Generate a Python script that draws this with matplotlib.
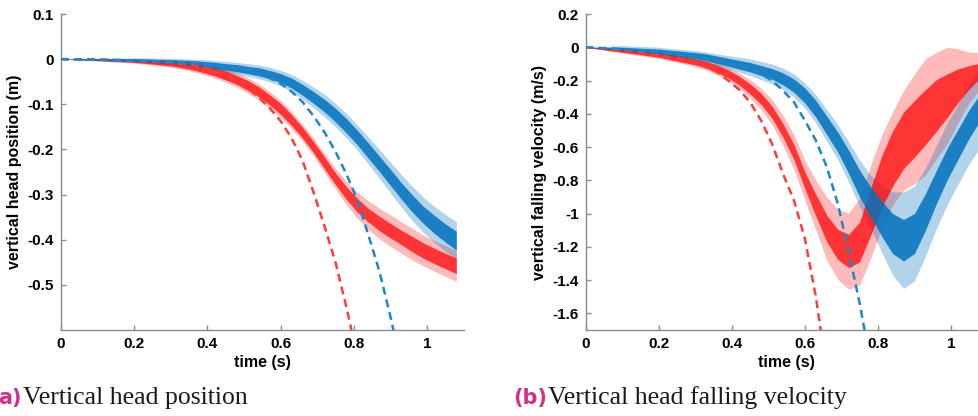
import numpy as np
import matplotlib
matplotlib.use("Agg")
import matplotlib.pyplot as plt

# ---------------- data ----------------
t = [0, 0.1, 0.2, 0.3, 0.33, 0.36, 0.39, 0.42, 0.45, 0.48, 0.51, 0.54, 0.57, 0.6,
     0.63, 0.66, 0.69, 0.72, 0.75, 0.78, 0.81, 0.84, 0.87, 0.9, 0.93, 0.96, 0.99,
     1.02, 1.05, 1.08]

# (a) vertical head position (m)
red_pos = [0, -0.001, -0.004, -0.010, -0.013, -0.017, -0.022, -0.028, -0.036, -0.046,
           -0.058, -0.072, -0.090, -0.110, -0.135, -0.163, -0.195, -0.230, -0.265,
           -0.297, -0.324, -0.346, -0.364, -0.380, -0.395, -0.410, -0.424, -0.436,
           -0.447, -0.458]
red_pos_sd_in = [0, 0.002, 0.003, 0.005, 0.006, 0.007, 0.008, 0.009, 0.010, 0.010,
                 0.011, 0.011, 0.011, 0.012, 0.012, 0.012, 0.012, 0.013, 0.013, 0.014,
                 0.015, 0.015, 0.016, 0.016, 0.016, 0.017, 0.017, 0.017, 0.017, 0.017]
red_pos_sd_out = [0, 0.003, 0.005, 0.008, 0.009, 0.011, 0.012, 0.014, 0.015, 0.016,
                  0.017, 0.018, 0.018, 0.019, 0.019, 0.019, 0.020, 0.021, 0.023, 0.026,
                  0.029, 0.032, 0.034, 0.035, 0.035, 0.035, 0.034, 0.034, 0.034, 0.034]
blue_pos = [0, -0.001, -0.002, -0.005, -0.007, -0.009, -0.011, -0.014, -0.017, -0.020,
            -0.024, -0.028, -0.034, -0.042, -0.053, -0.068, -0.085, -0.103, -0.124,
            -0.148, -0.174, -0.203, -0.232, -0.262, -0.292, -0.320, -0.345, -0.366,
            -0.385, -0.402]
blue_pos_sd_in = [0, 0.002, 0.003, 0.004, 0.005, 0.006, 0.006, 0.007, 0.007, 0.008,
                  0.008, 0.009, 0.009, 0.010, 0.011, 0.012, 0.013, 0.014, 0.015, 0.016,
                  0.016, 0.017, 0.017, 0.018, 0.018, 0.019, 0.019, 0.020, 0.020, 0.021]
blue_pos_sd_out = [0, 0.003, 0.005, 0.007, 0.008, 0.009, 0.010, 0.011, 0.012, 0.013,
                   0.014, 0.015, 0.016, 0.017, 0.019, 0.021, 0.023, 0.025, 0.026, 0.027,
                   0.028, 0.030, 0.032, 0.034, 0.036, 0.038, 0.039, 0.040, 0.041, 0.042]
red_pos_model = [0, -0.001, -0.003, -0.007, -0.010, -0.013, -0.018, -0.025, -0.035,
                 -0.048, -0.064, -0.085, -0.108, -0.137, -0.175, -0.225, -0.295, -0.370,
                 -0.450, -0.550, -0.660]
blue_pos_model = [0, -0.001, -0.003, -0.006, -0.007, -0.009, -0.011, -0.013, -0.016,
                  -0.020, -0.025, -0.032, -0.042, -0.054, -0.072, -0.095, -0.126,
                  -0.162, -0.205, -0.255, -0.313, -0.390, -0.470, -0.570, -0.680]

# (b) vertical head falling velocity (m/s)
red_vel = [0, -0.020, -0.045, -0.088, -0.105, -0.130, -0.160, -0.200, -0.250, -0.310,
           -0.390, -0.500, -0.630, -0.800, -0.950, -1.090, -1.185, -1.225, -1.170,
           -0.990, -0.810, -0.670, -0.560, -0.490, -0.420, -0.350, -0.290, -0.230,
           -0.180, -0.140]
red_vel_sd_in = [0, 0.010, 0.015, 0.018, 0.020, 0.022, 0.024, 0.026, 0.030, 0.033,
                 0.036, 0.040, 0.045, 0.050, 0.065, 0.080, 0.090, 0.100, 0.120, 0.140,
                 0.155, 0.165, 0.170, 0.170, 0.165, 0.155, 0.130, 0.100, 0.070, 0.045]
red_vel_sd_out = [0, 0.015, 0.022, 0.028, 0.032, 0.036, 0.040, 0.045, 0.055, 0.065,
                  0.075, 0.090, 0.105, 0.120, 0.150, 0.190, 0.210, 0.230, 0.260, 0.280,
                  0.280, 0.280, 0.300, 0.330, 0.350, 0.320, 0.290, 0.220, 0.150, 0.110]
blue_vel = [0, -0.010, -0.025, -0.050, -0.060, -0.075, -0.090, -0.105, -0.120, -0.140,
            -0.160, -0.190, -0.230, -0.290, -0.370, -0.470, -0.570, -0.690, -0.820,
            -0.930, -1.030, -1.120, -1.160, -1.120, -0.990, -0.840, -0.700, -0.580,
            -0.460, -0.360]
blue_vel_sd_in = [0, 0.010, 0.014, 0.018, 0.020, 0.022, 0.024, 0.026, 0.028, 0.030,
                  0.032, 0.036, 0.040, 0.045, 0.050, 0.055, 0.060, 0.070, 0.080, 0.090,
                  0.105, 0.120, 0.125, 0.120, 0.110, 0.100, 0.095, 0.090, 0.085, 0.080]
blue_vel_sd_out = [0, 0.020, 0.025, 0.030, 0.032, 0.035, 0.040, 0.045, 0.050, 0.055,
                   0.060, 0.065, 0.070, 0.075, 0.085, 0.095, 0.105, 0.120, 0.140, 0.160,
                   0.200, 0.250, 0.290, 0.285, 0.265, 0.250, 0.245, 0.240, 0.240, 0.240]
red_vel_model = [0, -0.020, -0.050, -0.085, -0.120, -0.150, -0.200, -0.255, -0.330,
                 -0.440, -0.580, -0.760, -0.920, -1.150, -1.500, -1.950]
blue_vel_model = [0, -0.010, -0.030, -0.055, -0.065, -0.080, -0.095, -0.110, -0.125,
                  -0.160, -0.200, -0.260, -0.330, -0.440, -0.560, -0.720, -0.940,
                  -1.230, -1.540, -1.900]

x_ticks = [0, 0.2, 0.4, 0.6, 0.8, 1]
x_ticklabels = ["0", "0.2", "0.4", "0.6", "0.8", "1"]
pos_ticks = [0.1, 0, -0.1, -0.2, -0.3, -0.4, -0.5]
pos_ticklabels = ["0.1", "0", "-0.1", "-0.2", "-0.3", "-0.4", "-0.5"]
vel_ticks = [0.2, 0, -0.2, -0.4, -0.6, -0.8, -1, -1.2, -1.4, -1.6]
vel_ticklabels = ["0.2", "0", "-0.2", "-0.4", "-0.6", "-0.8", "-1", "-1.2", "-1.4", "-1.6"]

# ---------------- style ----------------
BLUE = (0.0, 0.447, 0.741)
RED = (1.0, 0.0, 0.0)
BLUE_LINE = "#1f86c8"
RED_LINE = "#ff3c3c"
SPINE = "#8a8a8a"
MAGENTA = "#d1308d"
FONT = "Liberation Sans"

W, H = 979, 416
fig = plt.figure(figsize=(W / 100, H / 100), dpi=100)


def axes_px(left, top, right, bottom):
    return fig.add_axes([left / W, 1 - bottom / H, (right - left) / W, (bottom - top) / H])


def bands(ax, tt, mean, sd_in, sd_out, color, a_in, a_out, z):
    m = np.asarray(mean)
    si = np.asarray(sd_in)
    so = np.asarray(sd_out)
    ax.fill_between(tt, m - so, m + so, color=color, alpha=a_out, lw=0, zorder=z)
    ax.fill_between(tt, m - si, m + si, color=color, alpha=a_in, lw=0, zorder=z + 2)


def style(ax, yticks, yticklabels, ylim, ylabel):
    ax.set_xlim(0, 1.1)
    ax.set_ylim(*ylim)
    for s in ("top", "right"):
        ax.spines[s].set_visible(False)
    for s in ("left", "bottom"):
        ax.spines[s].set_color(SPINE)
        ax.spines[s].set_linewidth(1.0)
    ax.set_xticks(x_ticks)
    ax.set_xticklabels(x_ticklabels)
    ax.set_yticks(yticks)
    ax.set_yticklabels(yticklabels)
    ax.tick_params(direction="in", length=3.5, width=1.0, color=SPINE, pad=5,
                   labelsize=11)
    for lab in ax.get_xticklabels() + ax.get_yticklabels():
        lab.set_fontfamily(FONT)
        lab.set_fontweight("bold")
    ax.set_xlabel("time (s)", fontfamily=FONT, fontweight="bold", fontsize=11.5, labelpad=3)
    ax.set_ylabel(ylabel, fontfamily=FONT, fontweight="bold", fontsize=11.5, labelpad=4)
    ax.patch.set_visible(False)


DASH = dict(lw=1.8, dashes=(3.2, 2.0))

# (a)
ax1 = axes_px(61, 14, 463.6, 330)
bands(ax1, t, red_pos, red_pos_sd_in, red_pos_sd_out, RED, 0.72, 0.27, 1)
bands(ax1, t, blue_pos, blue_pos_sd_in, blue_pos_sd_out, BLUE, 0.85, 0.30, 2)
ax1.plot(t[:len(red_pos_model)], red_pos_model, color=RED_LINE, zorder=6, **DASH)
ax1.plot(t[:len(blue_pos_model)], blue_pos_model, color=BLUE_LINE, zorder=7, **DASH)
style(ax1, pos_ticks, pos_ticklabels, (-0.6, 0.1), "vertical head position (m)")

# (b)
ax2 = axes_px(585.7, 14, 585.7 + 1.1 * 365.3, 330)
bands(ax2, t, red_vel, red_vel_sd_in, red_vel_sd_out, RED, 0.72, 0.27, 1)
bands(ax2, t, blue_vel, blue_vel_sd_in, blue_vel_sd_out, BLUE, 0.85, 0.30, 2)
ax2.plot(t[:len(red_vel_model)], red_vel_model, color=RED_LINE, zorder=6, **DASH)
ax2.plot(t[:len(blue_vel_model)], blue_vel_model, color=BLUE_LINE, zorder=7, **DASH)
style(ax2, vel_ticks, vel_ticklabels, (-1.7, 0.2), "vertical falling velocity (m/s)")

# captions
base_y = 1 - 404 / H
fig.text(22 / W, base_y, "a)", color=MAGENTA, fontfamily="DejaVu Sans",
         fontweight="bold", fontsize=15, ha="right", va="baseline")
fig.text(23 / W, base_y, "Vertical head position", color="#1a1a1a",
         fontfamily="Liberation Serif", fontsize=18.5, ha="left", va="baseline")
fig.text(547 / W, base_y, "(b)", color=MAGENTA, fontfamily="DejaVu Sans",
         fontweight="bold", fontsize=15, ha="right", va="baseline")
fig.text(548 / W, base_y, "Vertical head falling velocity", color="#1a1a1a",
         fontfamily="Liberation Serif", fontsize=18.5, ha="left", va="baseline")

fig.savefig("out.png", dpi=100)
